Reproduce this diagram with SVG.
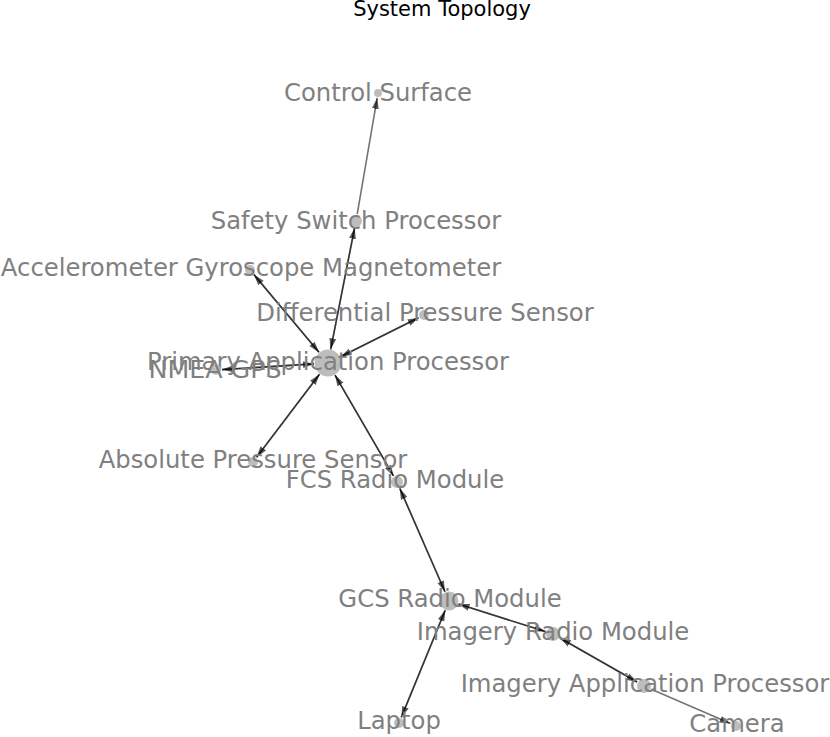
<svg xmlns="http://www.w3.org/2000/svg" width="830" height="737" viewBox="0 0 830 737">
<defs>
<marker id="arr" markerUnits="userSpaceOnUse" markerWidth="11" markerHeight="8" refX="11" refY="4" orient="auto">
<path d="M0,0.5 L11,4 L0,7.5 z" fill="#000" fill-opacity="0.65"/>
</marker>
<style>
.e{stroke:#000;stroke-opacity:0.55;stroke-width:1.6;fill:none;marker-end:url(#arr)}
.n{fill:#bdbdbd}
.l{font-family:"DejaVu Sans",sans-serif;font-size:24.3px;fill:#808080;text-anchor:middle}
.t{font-family:"DejaVu Sans",sans-serif;font-size:21px;fill:#000;text-anchor:middle}
</style>
</defs>
<rect width="830" height="737" fill="#fff"/>
<text class="t" x="442" y="16">System Topology</text>
<g id="connectors">
<line class="e" x1="330.7" y1="349.3" x2="354.6" y2="227.9"/>
<line class="e" x1="354.6" y1="227.9" x2="330.7" y2="349.3"/>
<line class="e" x1="357.2" y1="214.1" x2="377.2" y2="97.9"/>
<line class="e" x1="319.0" y1="352.3" x2="253.9" y2="274.6"/>
<line class="e" x1="253.9" y1="274.6" x2="319.0" y2="352.3"/>
<line class="e" x1="340.5" y1="356.7" x2="418.6" y2="317.7"/>
<line class="e" x1="418.6" y1="317.7" x2="340.5" y2="356.7"/>
<line class="e" x1="314.0" y1="363.9" x2="222.0" y2="369.6"/>
<line class="e" x1="222.0" y1="369.6" x2="314.0" y2="363.9"/>
<line class="e" x1="319.5" y1="374.2" x2="256.6" y2="457.2"/>
<line class="e" x1="256.6" y1="457.2" x2="319.5" y2="374.2"/>
<line class="e" x1="335.0" y1="375.1" x2="393.5" y2="475.9"/>
<line class="e" x1="393.5" y1="475.9" x2="335.0" y2="375.1"/>
<line class="e" x1="399.8" y1="488.4" x2="445.0" y2="591.8"/>
<line class="e" x1="445.0" y1="591.8" x2="399.8" y2="488.4"/>
<line class="e" x1="445.2" y1="610.3" x2="401.3" y2="717.4"/>
<line class="e" x1="401.3" y1="717.4" x2="445.2" y2="610.3"/>
<line class="e" x1="458.5" y1="604.0" x2="545.4" y2="631.6"/>
<line class="e" x1="545.4" y1="631.6" x2="458.5" y2="604.0"/>
<line class="e" x1="559.9" y1="638.0" x2="637.1" y2="682.0"/>
<line class="e" x1="637.1" y1="682.0" x2="559.9" y2="638.0"/>
<line class="e" x1="651.3" y1="689.2" x2="730.5" y2="723.6"/>
</g>
<g id="control-surface"><circle class="n" cx="378" cy="93" r="4"/><text class="l" x="378" y="101">Control Surface</text></g>
<g id="safety-switch-processor"><circle class="n" cx="356" cy="221" r="6"/><text class="l" x="356" y="229">Safety Switch Processor</text></g>
<g id="accelerometer"><circle class="n" cx="250" cy="270" r="5"/><text class="l" x="251" y="276">Accelerometer Gyroscope Magnetometer</text></g>
<g id="differential-pressure-sensor"><circle class="n" cx="424" cy="315" r="5"/><text class="l" x="425" y="321">Differential Pressure Sensor</text></g>
<g id="primary-application-processor"><circle class="n" cx="328" cy="363" r="13.5"/><text class="l" x="328" y="370">Primary Application Processor</text></g>
<g id="nmea-gps"><circle class="n" cx="216" cy="370" r="5"/><text class="l" x="215" y="378" style="font-size:25.3px">NMEA GPS</text></g>
<g id="absolute-pressure-sensor"><circle class="n" cx="253" cy="462" r="5"/><text class="l" x="253" y="468">Absolute Pressure Sensor</text></g>
<g id="fcs-radio-module"><circle class="n" cx="397" cy="482" r="6"/><text class="l" x="395" y="488">FCS Radio Module</text></g>
<g id="gcs-radio-module"><circle class="n" cx="449" cy="601" r="9.5"/><text class="l" x="450" y="607">GCS Radio Module</text></g>
<g id="imagery-radio-module"><circle class="n" cx="553" cy="634" r="7"/><text class="l" x="553" y="640">Imagery Radio Module</text></g>
<g id="imagery-application-processor"><circle class="n" cx="644" cy="686" r="7"/><text class="l" x="645" y="692">Imagery Application Processor</text></g>
<g id="laptop"><circle class="n" cx="399" cy="723" r="5"/><text class="l" x="399" y="729">Laptop</text></g>
<g id="camera"><circle class="n" cx="736" cy="726" r="5"/><text class="l" x="737" y="732">Camera</text></g>
</svg>
